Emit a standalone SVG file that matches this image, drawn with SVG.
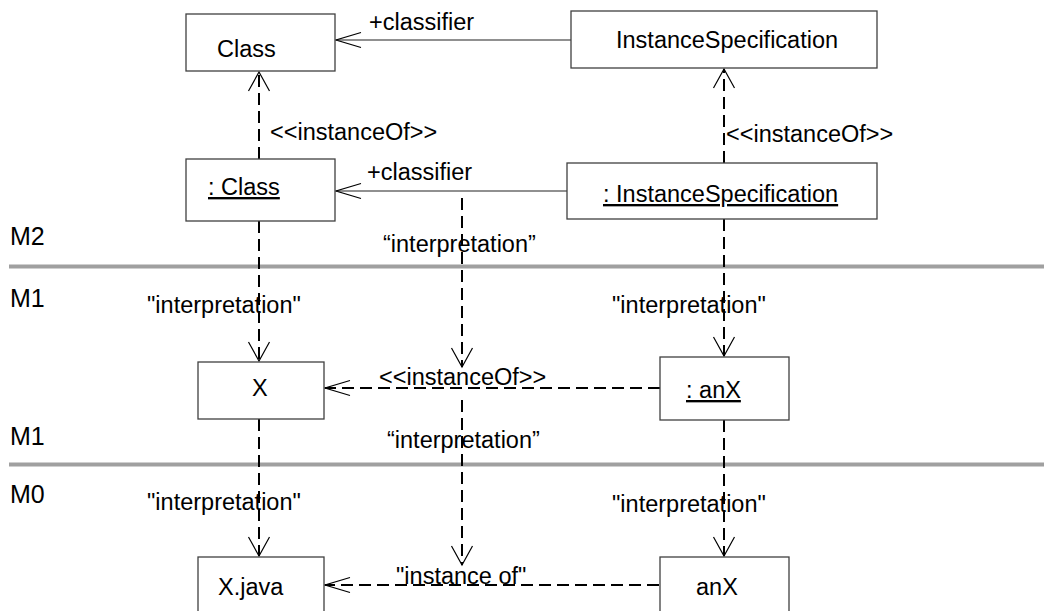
<svg xmlns="http://www.w3.org/2000/svg" width="1044" height="611" viewBox="0 0 1044 611">
<style>
  text { font-family: "Liberation Sans", Arial, sans-serif; font-size: 23.5px; fill: #000; }
  .m { font-size: 25px; }
  .u { text-decoration: underline; }
  .box { fill: #fff; stroke: #404040; stroke-width: 1.3; }
  .solid { fill: none; stroke: #222; stroke-width: 1.2; }
  .dash { fill: none; stroke: #000; stroke-width: 2; stroke-dasharray: 12 6; }
  .sep { stroke: #a0a0a0; stroke-width: 4; }
</style>
<defs>
  <marker id="arrV" markerUnits="userSpaceOnUse" markerWidth="40" markerHeight="40" viewBox="-30 -20 40 40" refX="0" refY="0" orient="auto" overflow="visible">
    <path d="M-19,-10.5 L0,0 L-19,10.5" fill="none" stroke="#000" stroke-width="1.2" stroke-dasharray="none"/>
  </marker>
  <marker id="arrH" markerUnits="userSpaceOnUse" markerWidth="40" markerHeight="40" viewBox="-30 -20 40 40" refX="0" refY="0" orient="auto" overflow="visible">
    <path d="M-25,-7.5 L0,0 L-25,7.5" fill="none" stroke="#000" stroke-width="1.2" stroke-dasharray="none"/>
  </marker>
</defs>
<rect width="1044" height="611" fill="#fff"/>

<g id="separators">
  <line class="sep" x1="9" y1="266.5" x2="1044" y2="266.5"/>
  <line class="sep" x1="9" y1="464.5" x2="1044" y2="464.5"/>
  <text class="m" x="10" y="245">M2</text>
  <text class="m" x="10" y="307">M1</text>
  <text class="m" x="10" y="445">M1</text>
  <text class="m" x="10" y="503">M0</text>
</g>

<g id="connectors">
  <line class="solid" x1="572" y1="40" x2="336" y2="40" marker-end="url(#arrH)"/>
  <line class="solid" x1="567" y1="191" x2="336" y2="191" marker-end="url(#arrH)"/>
  <line class="dash" x1="259" y1="159" x2="259" y2="72" marker-end="url(#arrV)"/>
  <line class="dash" x1="724" y1="163" x2="724" y2="69" marker-end="url(#arrV)"/>
  <line class="dash" x1="259" y1="221" x2="259" y2="361" marker-end="url(#arrV)"/>
  <line class="dash" x1="724" y1="219" x2="724" y2="356" marker-end="url(#arrV)"/>
  <line class="dash" x1="462" y1="198" x2="462" y2="367" marker-end="url(#arrV)"/>
  <line class="dash" x1="660" y1="388" x2="325" y2="388" marker-end="url(#arrH)"/>
  <line class="dash" x1="259" y1="419" x2="259" y2="556" marker-end="url(#arrV)"/>
  <line class="dash" x1="724" y1="420" x2="724" y2="556" marker-end="url(#arrV)"/>
  <line class="dash" x1="462" y1="400" x2="462" y2="565" marker-end="url(#arrV)"/>
  <line class="dash" x1="659" y1="585" x2="325" y2="585" marker-end="url(#arrH)"/>
  <text x="369" y="30">+classifier</text>
  <text x="367" y="180">+classifier</text>
  <text x="270" y="140">&lt;&lt;instanceOf&gt;&gt;</text>
  <text x="726" y="142">&lt;&lt;instanceOf&gt;&gt;</text>
  <text x="383" y="252">“interpretation”</text>
  <text x="147" y="313">"interpretation"</text>
  <text x="612" y="313">"interpretation"</text>
  <text x="379" y="385">&lt;&lt;instanceOf&gt;&gt;</text>
  <text x="387" y="448">“interpretation”</text>
  <text x="147" y="510">"interpretation"</text>
  <text x="612" y="512">"interpretation"</text>
  <text x="396" y="584">"instance of"</text>
</g>

<g id="node-class">
  <rect class="box" x="186" y="14" width="149" height="57"/>
  <text x="217" y="57">Class</text>
</g>
<g id="node-instancespecification">
  <rect class="box" x="571" y="11" width="306" height="57"/>
  <text x="616" y="48">InstanceSpecification</text>
</g>
<g id="node-class-instance">
  <rect class="box" x="186" y="159" width="149" height="62"/>
  <text class="u" x="208" y="195">: Class</text>
</g>
<g id="node-instancespecification-instance">
  <rect class="box" x="567" y="163" width="310" height="56"/>
  <text class="u" x="603" y="202">: InstanceSpecification</text>
</g>
<g id="node-x">
  <rect class="box" x="198" y="362" width="126" height="57"/>
  <text x="252" y="396">X</text>
</g>
<g id="node-anx-instance">
  <rect class="box" x="660" y="357" width="129" height="63"/>
  <text class="u" x="686" y="398">: anX</text>
</g>
<g id="node-xjava">
  <rect class="box" x="198" y="557" width="126" height="70"/>
  <text x="218" y="595">X.java</text>
</g>
<g id="node-anx">
  <rect class="box" x="660" y="557" width="129" height="70"/>
  <text x="696" y="595">anX</text>
</g>
</svg>
